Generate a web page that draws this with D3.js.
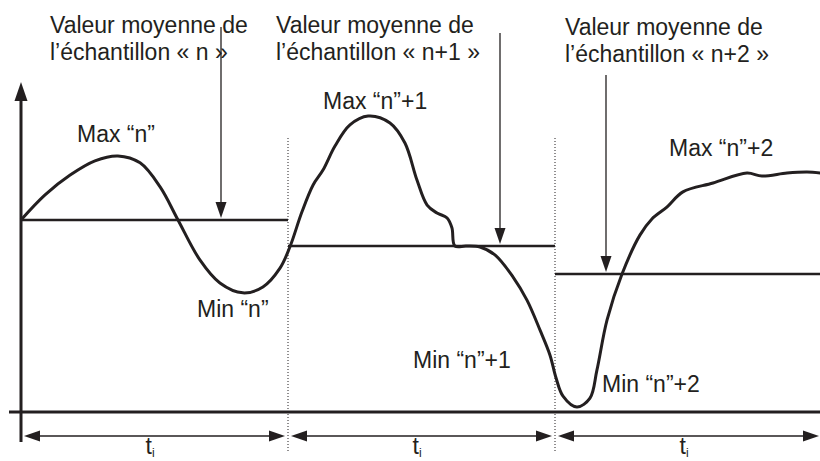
<!DOCTYPE html>
<html>
<head>
<meta charset="utf-8">
<script src="https://cdn.jsdelivr.net/npm/d3@7"></script>
<style>
  body { margin: 0; background: #fff; }
  text { font-family: "Liberation Sans", Arial, sans-serif; fill: #231f20; }
</style>
</head>
<body>
<svg id="chart"></svg>
<script>
// Signal samples: time t (0..300, three periods of 100) and value (0..100)
const signalT = [0, 9.0, 18.4, 27.7, 36.3, 44.6, 52.1, 58.8, 67.0, 74.5, 83.1, 90.6, 97.0,
    100.7, 105.2, 109.4, 113.1, 117.6, 123.2, 130.0, 138.2, 143.8, 148.3, 152.1, 155.8, 159.6,
    161.4, 162.5, 166.7, 171.9, 177.5, 184.3, 189.5, 194.4, 198.1, 200.4, 203.0, 208.2, 213.1,
    215.7, 219.5, 225.1, 231.8, 236.3, 241.9, 247.9, 259.2, 271.9, 277.5, 286.9, 294.4, 300];
const signalV = [58.2, 65.8, 71.8, 76.1, 77.6, 75.5, 68.2, 58.2, 46.1, 39.1, 36.1, 37.9, 43.6,
    50.0, 60.6, 68.8, 73.3, 80.6, 87.0, 89.7, 87.6, 81.5, 70.3, 62.7, 60.3, 58.8,
    55.8, 50.3, 50.3, 50.0, 47.6, 40.9, 33.9, 24.8, 17.3, 10.3, 4.8, 1.5, 4.2,
    12.7, 27.9, 41.8, 53.6, 58.5, 62.1, 66.7, 69.4, 72.4, 71.5, 72.4, 72.7, 72.4];

// sample periods and their mean values
const periodStart = [0, 100, 200];
const periodEnd = [100, 200, 300];
const periodMean = [58.2, 50.3, 41.8];
const meanLabels = ["« n »", "« n+1 »", "« n+2 »"];

const width = 820;
const height = 461;
const ink = "#231f20";

const svg = d3.select("#chart")
    .attr("width", width)
    .attr("height", height);

const x = d3.scaleLinear().domain([0, 300]).range([21, 822]);
const y = d3.scaleLinear().domain([0, 100]).range([412, 82]);

// filled triangular arrow head, tip at (tx,ty), pointing in direction (dx,dy)
function arrowHead(tx, ty, dx, dy, len, half) {
    const bx = tx - dx * len, by = ty - dy * len;
    const px = -dy * half, py = dx * half;
    svg.append("path")
        .attr("d", `M${tx},${ty}L${bx + px},${by + py}L${bx - px},${by - py}Z`)
        .attr("fill", ink);
}

// axes
svg.append("line")
    .attr("x1", 9).attr("x2", width)
    .attr("y1", y(0)).attr("y2", y(0))
    .attr("stroke", ink).attr("stroke-width", 3);
svg.append("line")
    .attr("x1", x(0)).attr("x2", x(0))
    .attr("y1", 442).attr("y2", 98)
    .attr("stroke", ink).attr("stroke-width", 3);
arrowHead(x(0), 82, 0, -1, 19, 6.5);

// dotted separators between periods
[100, 200].forEach(t => {
    svg.append("line")
        .attr("x1", x(t)).attr("x2", x(t))
        .attr("y1", 138).attr("y2", 452)
        .attr("stroke", ink).attr("stroke-width", 1)
        .attr("stroke-dasharray", "1,2");
});

// mean lines
periodStart.forEach((s, i) => {
    svg.append("line")
        .attr("x1", x(s)).attr("x2", x(periodEnd[i]))
        .attr("y1", y(periodMean[i])).attr("y2", y(periodMean[i]))
        .attr("stroke", ink).attr("stroke-width", 2.5);
});

// signal
const line = d3.line()
    .x(d => x(d[0]))
    .y(d => y(d[1]))
    .curve(d3.curveCatmullRom.alpha(0.5));

svg.append("path")
    .datum(signalT.map((t, i) => [t, signalV[i]]))
    .attr("d", line)
    .attr("fill", "none")
    .attr("stroke", ink)
    .attr("stroke-width", 3)
    .attr("stroke-linejoin", "round");

// period duration arrows
const arrowY = 436;
periodStart.forEach((s, i) => {
    const x1 = x(s) + 3;
    const x2 = Math.min(x(periodEnd[i]) - 3, width - 1);
    svg.append("line")
        .attr("x1", x1 + 10).attr("x2", x2 - 10)
        .attr("y1", arrowY).attr("y2", arrowY)
        .attr("stroke", ink).attr("stroke-width", 1.5);
    arrowHead(x1, arrowY, -1, 0, 16, 5.5);
    arrowHead(x2, arrowY, 1, 0, 16, 5.5);

    const lbl = svg.append("text")
        .attr("x", (x(s) + x(periodEnd[i])) / 2 - 9)
        .attr("y", 454)
        .style("font-size", "23px");
    lbl.append("tspan").text("t");
    lbl.append("tspan").attr("dy", 3).style("font-size", "12px").text("i");
});

// mean value callouts
const calloutX = [50, 276, 565];
const calloutY = [33, 33, 35];
const pointerX = [221, 500, 606];
const pointerTop = [27, 33, 75];
periodStart.forEach((s, i) => {
    const t = svg.append("text")
        .attr("x", calloutX[i])
        .attr("y", calloutY[i])
        .style("font-size", "23px");
    t.append("tspan").attr("x", calloutX[i]).text("Valeur moyenne de");
    t.append("tspan").attr("x", calloutX[i]).attr("dy", 27)
        .text("l’échantillon " + meanLabels[i]);

    const tipY = y(periodMean[i]) - 2;
    svg.append("line")
        .attr("x1", pointerX[i]).attr("x2", pointerX[i])
        .attr("y1", pointerTop[i]).attr("y2", tipY - 12)
        .attr("stroke", ink).attr("stroke-width", 1.3);
    arrowHead(pointerX[i], tipY, 0, 1, 16, 5.5);
});

// max / min labels
const extremaText = ["Max “n”", "Min “n”", "Max “n”+1", "Min “n”+1", "Max “n”+2", "Min “n”+2"];
const extremaX = [77, 197, 323, 413, 669, 602];
const extremaY = [142, 317, 109, 368, 156, 392];
extremaText.forEach((s, i) => {
    svg.append("text")
        .attr("x", extremaX[i])
        .attr("y", extremaY[i])
        .style("font-size", "23px")
        .text(s);
});
</script>
</body>
</html>
